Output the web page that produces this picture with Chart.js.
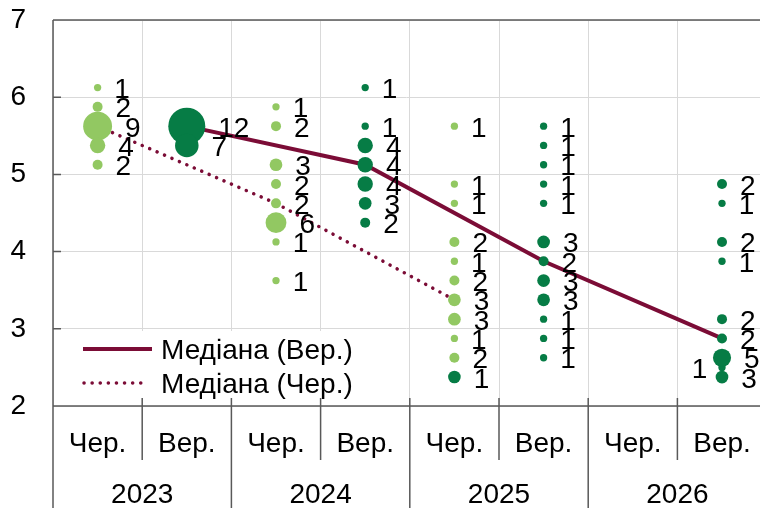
<!DOCTYPE html>
<html>
<head>
<meta charset="utf-8">
<script src="https://cdn.jsdelivr.net/npm/chart.js@4.4.0/dist/chart.umd.min.js"></script>
<style>
    html, body { margin: 0; padding: 0; background: #fff; overflow: hidden; }
    #wrap { width: 760px; height: 508px; position: relative; }
</style>
</head>
<body>
<div id="wrap"><canvas id="rate_chart"></canvas></div>
<script>
const periodLabels = ['Чер.', 'Вер.', 'Чер.', 'Вер.', 'Чер.', 'Вер.', 'Чер.', 'Вер.'];
const yearLabels = ['2023', '2024', '2025', '2026'];
const legendLabels = ['Медіана (Вер.)', 'Медіана (Чер.)'];

// Чер. 2023
const jun23Rates = [6.125, 5.875, 5.625, 5.375, 5.125];
const jun23Counts = [1, 2, 9, 4, 2];
// Вер. 2023
const sep23Rates = [5.625, 5.375];
const sep23Counts = [12, 7];
// Чер. 2024
const jun24Rates = [5.875, 5.625, 5.125, 4.875, 4.625, 4.375, 4.125, 3.625];
const jun24Counts = [1, 2, 3, 2, 2, 6, 1, 1];
// Вер. 2024
const sep24Rates = [6.125, 5.625, 5.375, 5.125, 4.875, 4.625, 4.375];
const sep24Counts = [1, 1, 4, 4, 4, 3, 2];
// Чер. 2025
const jun25Rates = [5.625, 4.875, 4.625, 4.125, 3.875, 3.625, 3.375, 3.125, 2.875, 2.625];
const jun25Counts = [1, 1, 1, 2, 1, 2, 3, 3, 1, 2];
// Вер. 2025
const sep25Rates = [5.625, 5.375, 5.125, 4.875, 4.625, 4.125, 3.875, 3.625, 3.375, 3.125, 2.875, 2.625];
const sep25Counts = [1, 1, 1, 1, 1, 3, 2, 3, 3, 1, 1, 1];
// Вер. 2026
const sep26Rates = [4.875, 4.625, 4.125, 3.875, 3.125, 2.875, 2.625, 2.375];
const sep26Counts = [2, 1, 2, 1, 2, 2, 5, 3];
// окремі точки
const jun25ExtraRates = [2.375];
const jun25ExtraCounts = [1];
const sep26ExtraRates = [2.5];
const sep26ExtraCounts = [1];

// медіани
const medianSep = [5.625, 5.125, 3.875, 2.875];
const medianJun = [5.625, 4.625, 3.375];

const LIGHT_GREEN = '#92c862';
const DARK_GREEN = '#067c45';
const MAROON = '#7b0c36';
const AXIS = '#595959';
const FONT = '"Liberation Sans", Arial, sans-serif';
const TEXT_SIZE = 28;

Chart.defaults.font.family = FONT;

function bubbleR(n) {
    return 2.3 + 1.35 * n;
}

function toPoints(x, rates, counts) {
    return rates.map((v, i) => ({ x: x, y: v, r: bubbleR(counts[i]), n: counts[i] }));
}

const junPoints = [].concat(
    toPoints(0, jun23Rates, jun23Counts),
    toPoints(2, jun24Rates, jun24Counts),
    toPoints(4, jun25Rates, jun25Counts)
);
const sepPoints = [].concat(
    toPoints(1, sep23Rates, sep23Counts),
    toPoints(3, sep24Rates, sep24Counts),
    toPoints(5, sep25Rates, sep25Counts),
    toPoints(7, sep26Rates, sep26Counts)
);
const jun25Extra = jun25ExtraRates.map((v, i) => ({ x: 4, y: v, n: jun25ExtraCounts[i] }));
const sep26Extra = sep26ExtraRates.map((v, i) => ({ x: 7, y: v, n: sep26ExtraCounts[i] }));

const datasets = [
    {
        type: 'line',
        label: legendLabels[0],
        data: medianSep.map((v, i) => ({ x: 1 + 2 * i, y: v })),
        borderColor: MAROON,
        borderWidth: 4,
        pointRadius: 0,
        fill: false,
        order: 3
    },
    {
        type: 'line',
        label: legendLabels[1],
        data: medianJun.map((v, i) => ({ x: 2 * i, y: v })),
        borderColor: MAROON,
        borderWidth: 3.5,
        borderDash: [0.1, 8],
        borderCapStyle: 'round',
        pointRadius: 0,
        fill: false,
        order: 3
    },
    {
        label: 'Чер.',
        data: junPoints,
        backgroundColor: LIGHT_GREEN,
        borderWidth: 0,
        order: 1,
        labelSide: 'right'
    },
    {
        label: 'Вер.',
        data: sepPoints,
        backgroundColor: DARK_GREEN,
        borderWidth: 0,
        order: 1,
        labelSide: 'right'
    },
    {
        label: 'Вер. (Чер. 2025)',
        data: jun25Extra,
        backgroundColor: DARK_GREEN,
        borderWidth: 0,
        radius: 6.3,
        order: 0,
        labelSide: 'right'
    },
    {
        label: 'Вер. (2026)',
        data: sep26Extra,
        backgroundColor: DARK_GREEN,
        borderWidth: 0,
        radius: 3.65,
        order: 2,
        labelSide: 'left'
    }
];

// рамка, вісі, підписи категорій і років
const axisPlugin = {
    id: 'axisPlugin',
    beforeDatasetsDraw(chart) {
        const c = chart.ctx;
        const a = chart.chartArea;
        const xs = chart.scales.x;
        const ys = chart.scales.y;
        const H = chart.height;
        c.save();
        c.strokeStyle = AXIS;
        c.lineWidth = 1.5;
        c.beginPath();
        // верх
        c.moveTo(a.left, a.top);
        c.lineTo(a.right, a.top);
        // ліва вісь до низу
        c.moveTo(a.left, a.top);
        c.lineTo(a.left, H);
        // нижня вісь
        c.moveTo(a.left, a.bottom);
        c.lineTo(a.right, a.bottom);
        // засічки на осі Y
        for (let v = ys.min; v <= ys.max; v++) {
            const y = ys.getPixelForValue(v);
            c.moveTo(a.left, y);
            c.lineTo(a.left + 8, y);
        }
        // засічки та розділювачі осі X
        for (let k = 0; k < periodLabels.length; k++) {
            const x = xs.getPixelForValue(k + 0.5);
            if (x > a.right) continue;
            c.moveTo(x, a.bottom - 8);
            const yearEnd = (k % 2 === 1);
            c.lineTo(x, yearEnd ? H : a.bottom + 54);
        }
        c.stroke();
        c.restore();
    },
    afterDraw(chart) {
        const c = chart.ctx;
        const a = chart.chartArea;
        const xs = chart.scales.x;
        c.save();
        c.fillStyle = '#000';
        c.font = TEXT_SIZE + 'px ' + FONT;
        c.textAlign = 'center';
        c.textBaseline = 'alphabetic';
        periodLabels.forEach((lab, k) => {
            c.fillText(lab, xs.getPixelForValue(k), a.bottom + 46);
        });
        yearLabels.forEach((lab, k) => {
            c.fillText(lab, xs.getPixelForValue(2 * k + 0.5), a.bottom + 97);
        });
        c.restore();
    }
};

// підписи кількостей біля точок
const labelPlugin = {
    id: 'labelPlugin',
    afterDatasetsDraw(chart) {
        const c = chart.ctx;
        c.save();
        c.fillStyle = '#000';
        c.font = TEXT_SIZE + 'px ' + FONT;
        c.textBaseline = 'alphabetic';
        chart.data.datasets.forEach((ds, di) => {
            if (!ds.labelSide) return;
            const meta = chart.getDatasetMeta(di);
            meta.data.forEach((el, i) => {
                const r = el.options.radius;
                const txt = String(ds.data[i].n);
                if (ds.labelSide === 'left') {
                    c.textAlign = 'right';
                    c.fillText(txt, el.x - r - 11, el.y + 10.5);
                } else {
                    c.textAlign = 'left';
                    c.fillText(txt, el.x + r + 13, el.y + 10.5);
                }
            });
        });
        c.restore();
    }
};

// легенда всередині області графіка
const legendPlugin = {
    id: 'medianLegend',
    afterDraw(chart) {
        const c = chart.ctx;
        const a = chart.chartArea;
        const x0 = a.left + 5;
        const y0 = 331;
        c.save();
        c.fillStyle = '#fff';
        c.fillRect(x0, y0, 315, 67);
        c.strokeStyle = MAROON;
        c.lineCap = 'butt';
        c.lineWidth = 4;
        c.beginPath();
        c.moveTo(a.left + 30, y0 + 18);
        c.lineTo(a.left + 99, y0 + 18);
        c.stroke();
        c.lineWidth = 3.5;
        c.lineCap = 'round';
        c.setLineDash([0.1, 8]);
        c.beginPath();
        c.moveTo(a.left + 31, y0 + 52);
        c.lineTo(a.left + 95, y0 + 52);
        c.stroke();
        c.setLineDash([]);
        c.fillStyle = '#000';
        c.font = TEXT_SIZE + 'px ' + FONT;
        c.textAlign = 'left';
        c.textBaseline = 'alphabetic';
        c.fillText(legendLabels[0], a.left + 108, y0 + 28);
        c.fillText(legendLabels[1], a.left + 108, y0 + 62);
        c.restore();
    }
};

const boundaries = periodLabels.map((_, k) => k - 0.5);

new Chart(document.getElementById('rate_chart'), {
    type: 'bubble',
    data: { datasets: datasets },
    options: {
        responsive: true,
        maintainAspectRatio: false,
        animation: false,
        events: [],
        layout: { autoPadding: false, padding: { top: 20, left: 0, right: 0, bottom: 0 } },
        plugins: {
            legend: { display: false },
            tooltip: { enabled: false }
        },
        scales: {
            x: {
                type: 'linear',
                min: -0.5,
                max: 7.426,
                afterBuildTicks: function (scale) {
                    scale.ticks = boundaries.map(v => ({ value: v }));
                },
                afterFit: function (scale) {
                    scale.height = 102;
                    scale.paddingLeft = 0;
                    scale.paddingRight = 0;
                },
                grid: { color: '#d9d9d9', lineWidth: 1, drawTicks: false },
                border: { display: false },
                ticks: { display: false }
            },
            y: {
                min: 2,
                max: 7,
                ticks: {
                    stepSize: 1,
                    color: '#000',
                    font: { size: TEXT_SIZE },
                    padding: 27
                },
                afterFit: function (scale) {
                    scale.width = 53;
                    scale.paddingTop = 0;
                    scale.paddingBottom = 0;
                },
                grid: { color: '#d9d9d9', lineWidth: 1, drawTicks: false },
                border: { display: false }
            }
        }
    },
    plugins: [axisPlugin, labelPlugin, legendPlugin]
});
</script>
</body>
</html>
